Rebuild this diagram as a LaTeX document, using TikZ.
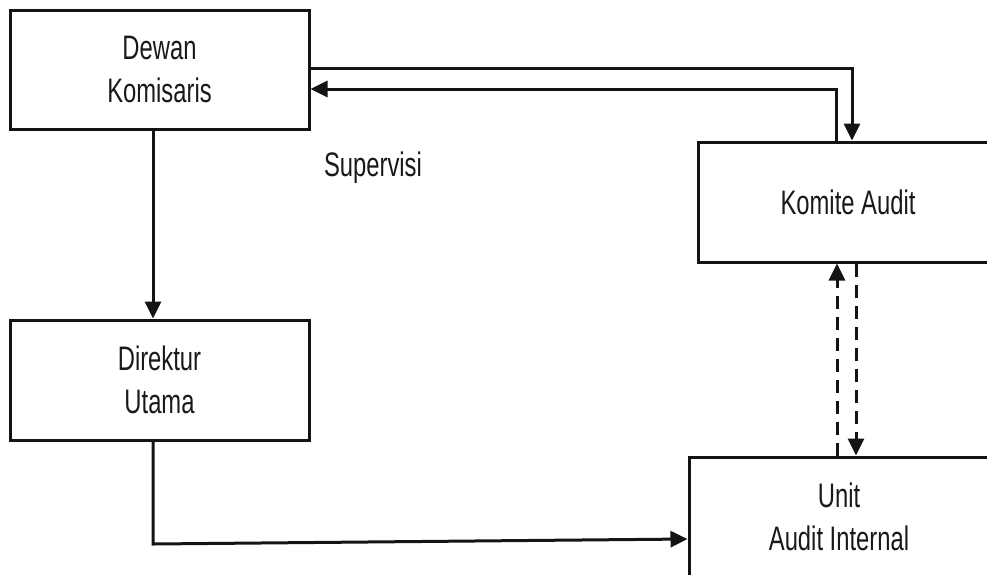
\documentclass[tikz,border=0pt]{standalone}
\usepackage{fontspec}
\setmainfont{Liberation Sans}[FakeStretch=0.7]
\usetikzlibrary{arrows.meta}
\begin{document}
\begin{tikzpicture}[x=1pt,y=-1pt,
  box/.style={draw=black!92, line width=3pt, align=center, inner sep=0pt,
    font=\fontsize{34}{43}\selectfont, text=black!90},
  arr/.style={draw=black!92, line width=3pt, -{Triangle[length=17pt,width=16pt]}},
  darr/.style={arr, dash pattern=on 13pt off 8pt}]
\useasboundingbox (0,0) rectangle (987,574);
\clip (0,0) rectangle (987,574);
\node[box, minimum width=299pt, minimum height=119pt] (dewan) at (159.5,69.5) {Dewan\\Komisaris};
\node[box, minimum width=300pt, minimum height=120pt] (komite) at (848,202) {Komite Audit};
\node[box, minimum width=299pt, minimum height=120pt] (direktur) at (159.5,380) {Direktur\\Utama};
\node[box, minimum width=300pt, minimum height=120pt] (unit) at (839,517) {Unit\\Audit Internal};
\node[font=\fontsize{34}{43}\selectfont, text=black!90] (sup) at (373,168) {Supervisi};
\draw[arr] ([yshift=1.5pt]dewan.east) -| ([xshift=4pt]komite.north);
\draw[arr] ([xshift=-12pt]komite.north) |- ([yshift=-19.5pt]dewan.east);
\draw[arr] ([xshift=-6.5pt]dewan.south) -- ([xshift=-6.5pt]direktur.north);
\coordinate (corner) at (153,544);
\draw[arr] ([xshift=-6.5pt]direktur.south) -- (corner) -- ([yshift=-22pt]unit.west);
\draw[darr] ([xshift=-2pt]unit.north) -- ([xshift=-11pt]komite.south);
\draw[darr] ([xshift=8pt]komite.south) -- ([xshift=17pt]unit.north);
\end{tikzpicture}
\end{document}
